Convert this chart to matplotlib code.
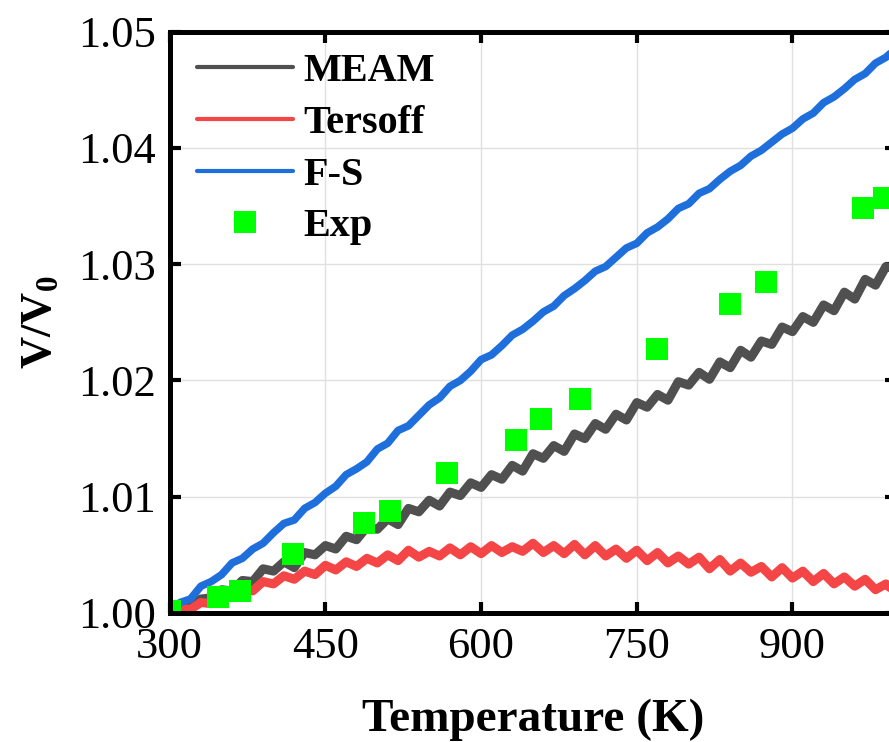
import numpy as np
import matplotlib
matplotlib.use("Agg")
import matplotlib.pyplot as plt

plt.rcParams["font.family"] = ["Liberation Serif", "DejaVu Serif"]
plt.rcParams["mathtext.fontset"] = "custom"
plt.rcParams["mathtext.rm"] = "Liberation Serif"
plt.rcParams["mathtext.bf"] = "Liberation Serif:bold"

# temperature grid of the simulated curves (K)
temp = np.arange(300, 1001, 10)

# V/V0, every 10 K
meam = [1.0000, 1.0005, 1.0006, 1.0012, 1.0013, 1.0020, 1.0019, 1.0028, 1.0027, 1.0038,
        1.0036, 1.0044, 1.0039, 1.0052, 1.0050, 1.0058, 1.0055, 1.0066, 1.0063, 1.0074,
        1.0072, 1.0081, 1.0076, 1.0090, 1.0087, 1.0097, 1.0092, 1.0104, 1.0101, 1.0112,
        1.0108, 1.0119, 1.0115, 1.0127, 1.0122, 1.0137, 1.0133, 1.0144, 1.0139, 1.0154,
        1.0150, 1.0163, 1.0158, 1.0171, 1.0166, 1.0181, 1.0177, 1.0188, 1.0183, 1.0199,
        1.0196, 1.0207, 1.0201, 1.0216, 1.0211, 1.0226, 1.0220, 1.0234, 1.0231, 1.0246,
        1.0242, 1.0255, 1.0250, 1.0265, 1.0260, 1.0276, 1.0270, 1.0287, 1.0282, 1.0298,
        1.0296]

tersoff = [1.0000, 1.0004, 1.0003, 1.0009, 1.0008, 1.0015, 1.0014, 1.0021, 1.0019, 1.0027,
           1.0025, 1.0032, 1.0029, 1.0036, 1.0033, 1.0041, 1.0037, 1.0044, 1.0040, 1.0047,
           1.0043, 1.0050, 1.0045, 1.0054, 1.0048, 1.0053, 1.0049, 1.0056, 1.0050, 1.0057,
           1.0051, 1.0058, 1.0052, 1.0057, 1.0053, 1.0060, 1.0052, 1.0058, 1.0051, 1.0059,
           1.0050, 1.0058, 1.0049, 1.0055, 1.0047, 1.0054, 1.0045, 1.0052, 1.0043, 1.0049,
           1.0042, 1.0048, 1.0038, 1.0046, 1.0036, 1.0043, 1.0035, 1.0040, 1.0031, 1.0039,
           1.0030, 1.0036, 1.0027, 1.0034, 1.0025, 1.0031, 1.0023, 1.0029, 1.0020, 1.0025,
           1.0017]

fs = [1.0000, 1.0009, 1.0012, 1.0023, 1.0027, 1.0033, 1.0043, 1.0047, 1.0055, 1.0060,
      1.0069, 1.0077, 1.0080, 1.0090, 1.0095, 1.0103, 1.0109, 1.0119, 1.0124, 1.0130,
      1.0141, 1.0146, 1.0157, 1.0161, 1.0170, 1.0179, 1.0185, 1.0195, 1.0200, 1.0208,
      1.0218, 1.0222, 1.0230, 1.0239, 1.0244, 1.0251, 1.0259, 1.0264, 1.0273, 1.0279,
      1.0286, 1.0294, 1.0298, 1.0306, 1.0314, 1.0318, 1.0327, 1.0332, 1.0339, 1.0348,
      1.0352, 1.0361, 1.0365, 1.0373, 1.0380, 1.0385, 1.0393, 1.0398, 1.0405, 1.0412,
      1.0417, 1.0425, 1.0430, 1.0439, 1.0444, 1.0451, 1.0459, 1.0464, 1.0473, 1.0478,
      1.0486]

# experimental points
exp_t = [300, 347, 368, 419, 487, 512, 567, 634, 658, 695, 769, 840, 874, 968, 988]
exp_v = [1.0002, 1.0014, 1.0019, 1.0051, 1.0077, 1.0088, 1.0120, 1.0149, 1.0167, 1.0184,
         1.0227, 1.0266, 1.0285, 1.0348, 1.0357]

x_ticks = [300, 450, 600, 750, 900]
y_ticks = [1.00, 1.01, 1.02, 1.03, 1.04, 1.05]

fig = plt.figure(figsize=(8.89, 7.42), dpi=100)
# axes run a bit past the right edge, as in the reference crop
ax = fig.add_axes([0.1909, 0.1739, 0.8173, 0.7833])

ax.plot(temp, meam, color="#505050", lw=6.5, label="MEAM", solid_capstyle="round")
ax.plot(temp, tersoff, color="#F44646", lw=6.5, label="Tersoff", solid_capstyle="round")
ax.plot(temp, fs, color="#1E6FDC", lw=5.5, label="F-S", solid_capstyle="round")
ax.plot(exp_t, exp_v, ls="none", marker="s", ms=16, color="#00FF00",
        markeredgewidth=0, label="Exp")

ax.set_xlim(300, 1000)
ax.set_ylim(1.00, 1.05)
ax.set_xticks(x_ticks)
ax.set_yticks(y_ticks)
ax.set_yticklabels(["%.2f" % v for v in y_ticks])
ax.grid(True, color="#E0E0E0", lw=1)
ax.set_axisbelow(True)

for sp in ax.spines.values():
    sp.set_linewidth(3.6)
ax.tick_params(direction="in", length=8, width=3, labelsize=32, pad=10,
               top=True, right=True)

ax.set_xlabel("Temperature (K)", fontsize=34, fontweight="bold", labelpad=23)
ax.set_ylabel("V/V$_\\mathbf{0}$", fontsize=32, fontweight="bold", labelpad=12)

leg = ax.legend(loc="upper left", bbox_to_anchor=(0.004, 1.005), frameon=False,
                prop={"size": 29, "weight": "bold"}, handlelength=2.4,
                handletextpad=0.25, labelspacing=0.36, borderaxespad=0.2)
for h in leg.get_lines()[:3]:
    h.set_linewidth(3)

fig.savefig("out.png", dpi=100)
